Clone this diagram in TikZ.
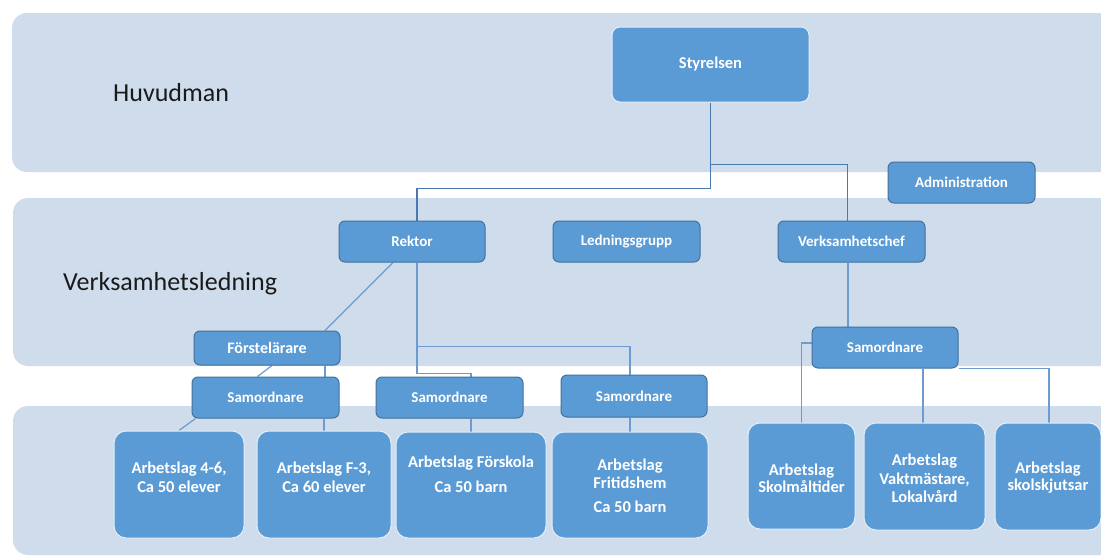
\documentclass[tikz,border=0pt]{standalone}
\usepackage{fontspec}
\setmainfont{Carlito}
\usetikzlibrary{calc}
\definecolor{bandc}{HTML}{CEDCEC}
\definecolor{boxc}{HTML}{5B9BD5}
\definecolor{boxdark}{HTML}{41719C}
\definecolor{boxlight}{HTML}{E3EEF9}
\definecolor{linetop}{HTML}{4A79B2}
\definecolor{linec}{HTML}{6D9BD0}
\definecolor{labelc}{HTML}{1A1A1A}
\pgfdeclarelayer{bg}
\pgfsetlayers{bg,main}
\tikzset{
  band/.style={fill=bandc, rounded corners=15pt},
  sbox/.style={draw=boxdark, fill=boxc, line width=1pt, rounded corners=6pt, text=white,
    font=\bfseries\fontsize{15}{18}\selectfont, inner sep=0pt},
  bbox/.style={draw=boxlight, fill=boxc, line width=1pt, rounded corners=12pt, inner sep=0pt},
  btext/.style={text=white, font=\bfseries\fontsize{16.5}{19}\selectfont, align=center, inner sep=0pt},
  lvl/.style={text=labelc, font=\fontsize{26}{30}\selectfont, inner sep=0pt},
  conn/.style={draw=linec, line width=1.2pt},
  conntop/.style={draw=linetop, line width=1.2pt},
}
\begin{document}
\begin{tikzpicture}[x=1pt,y=-1pt]
\clip (0,0) rectangle (1101,557);
\begin{pgfonlayer}{bg}
\fill[white] (0,0) rectangle (1101,557);
\fill[band] (12,13) rectangle (1130,172);
\fill[band] (13,198) rectangle (1130,366);
\fill[band] (13,406) rectangle (1130,555);
\end{pgfonlayer}

% level labels
\node[lvl, anchor=base west] (hm) at (113,101) {Huvudman};
\node[lvl, anchor=base west] (vl) at (63,290) {Verksamhetsledning};

% upper boxes
\node[sbox, draw=boxlight, rounded corners=8pt, minimum width=197pt, minimum height=75pt,
  font=\bfseries\fontsize{16.5}{19}\selectfont] (styr) at (710.5,64.5) {Styrelsen};
\node[sbox, minimum width=147pt, minimum height=41pt] (admin) at (961.5,182.5) {Administration};
\node[sbox, minimum width=146pt, minimum height=41pt] (rektor) at (412,241.5) {Rektor};
\node[sbox, minimum width=147pt, minimum height=41pt] (ledn) at (626.5,241.5) {Ledningsgrupp};
\node[sbox, minimum width=147pt, minimum height=41pt] (verk) at (851.5,241.5) {Verksamhetschef};
\node[sbox, minimum width=146pt, minimum height=34pt, font=\bfseries\fontsize{16}{19}\selectfont] (forst) at (267,348) {Förstelärare};
\node[sbox, minimum width=146pt, minimum height=41pt] (samR) at (885,347.5) {Samordnare};
\node[sbox, minimum width=147pt, minimum height=41pt] (sam1) at (265.5,397.5) {Samordnare};
\node[sbox, minimum width=147pt, minimum height=41pt] (sam2) at (449.5,397.5) {Samordnare};
\node[sbox, minimum width=146pt, minimum height=42pt] (sam3) at (634,396) {Samordnare};

% bottom boxes
\node[bbox, minimum width=130pt, minimum height=107pt] (a46) at (179,484.5) {};
\node[bbox, minimum width=134pt, minimum height=107pt] (f3) at (324,484.5) {};
\node[bbox, minimum width=150pt, minimum height=106pt] (forsk) at (471,485) {};
\node[bbox, minimum width=156pt, minimum height=106pt] (frit) at (630,485) {};
\node[bbox, minimum width=107pt, minimum height=106pt] (skol) at (801.5,476) {};
\node[bbox, minimum width=121pt, minimum height=107pt] (vakt) at (924.5,476.5) {};
\node[bbox, minimum width=106pt, minimum height=107pt] (skjuts) at (1048,476.5) {};

\node[btext] (a46t) at (179,477) {Arbetslag 4-6,\\Ca 50 elever};
\node[btext] (f3t) at (324,477) {Arbetslag F-3,\\Ca 60 elever};
\node[btext] (forskt) at (471,474) {Arbetslag Förskola\\[6pt]Ca 50 barn};
\node[btext, font=\bfseries\fontsize{16.5}{17.5}\selectfont] (fritt) at (630,486) {Arbetslag\\Fritidshem\\[7pt]Ca 50 barn};
\node[btext, font=\bfseries\fontsize{16.5}{17}\selectfont] (skolt) at (801.5,478) {Arbetslag\\Skolmåltider};
\node[btext, font=\bfseries\fontsize{16.5}{18.5}\selectfont] (vaktt) at (924.5,478.5) {Arbetslag\\Vaktmästare,\\Lokalvård};
\node[btext, font=\bfseries\fontsize{16.5}{17}\selectfont] (skjutst) at (1048,478) {Arbetslag\\skolskjutsar};

% connectors
\begin{pgfonlayer}{bg}
\draw[conntop] (styr.south) -- ++(0,86) -| ([xshift=5pt]rektor.north);
\draw[conntop] (styr.south) -- ++(0,62) -| ([xshift=-4pt]verk.north);
\draw[conn] ([xshift=5pt]rektor.south) -- ++(0,84) -| ([xshift=-4pt]sam3.north);
\draw[conn] ([xshift=5pt]rektor.south) -- ++(0,111) -| ([xshift=21.5pt]sam2.north);
\draw[conn] ([xshift=-19pt]rektor.south) -- ([xshift=58pt]forst.north);
\draw[conn] ([xshift=5pt]forst.south) -- ([xshift=-8pt]sam1.north);
\draw[conn] ([xshift=58pt]forst.south) -- ([xshift=59.5pt]sam1.north);
\draw[conn] ([xshift=-70pt]sam1.south) -- (a46.north);
\draw[conn] ([xshift=58.5pt]sam1.south) -- (f3.north);
\draw[conn] ([xshift=21.5pt]sam2.south) -- (forsk.north);
\draw[conn] ([xshift=-4pt]sam3.south) -- (frit.north);
\draw[conn] ([xshift=-3.5pt]verk.south) -- ([xshift=-37pt]samR.north);
\draw[conn] ([yshift=4.5pt]samR.west) -| (skol.north);
\draw[conn] ([xshift=38pt]samR.south) -- ([xshift=-1.5pt]vakt.north);
\draw[conn] (samR.south east) -| ([xshift=1pt]skjuts.north);
\end{pgfonlayer}
\end{tikzpicture}
\end{document}
